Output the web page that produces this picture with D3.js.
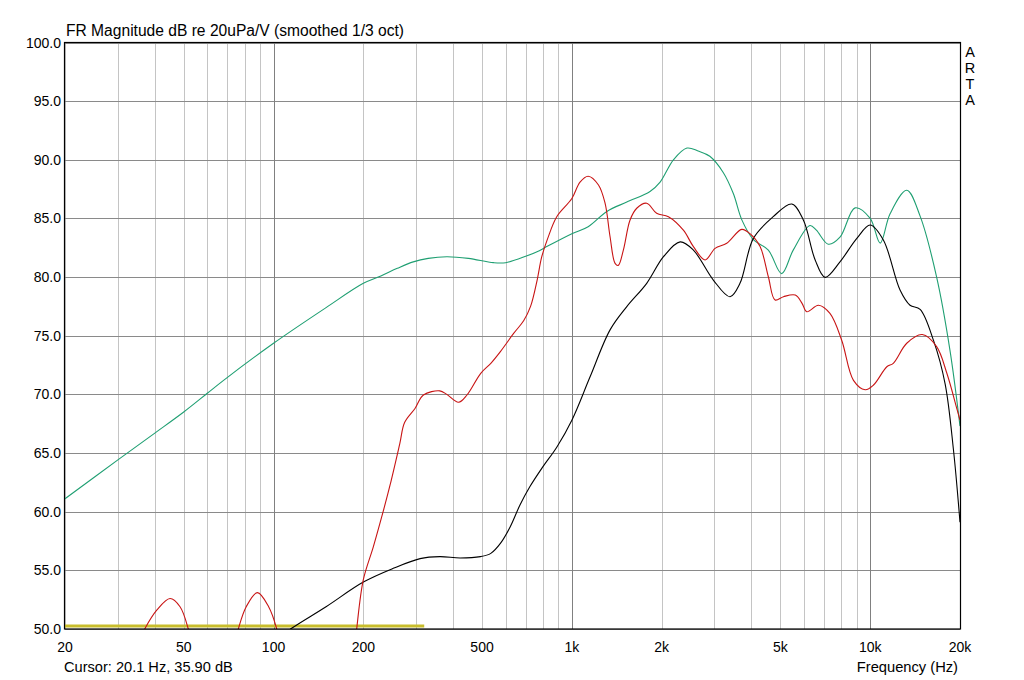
<!DOCTYPE html>
<html>
<head>
<meta charset="utf-8">
<script src="https://cdn.jsdelivr.net/npm/d3@7"></script>
<style>
  html, body { margin: 0; padding: 0; background: #fff; }
  svg { display: block; }
  text { font-family: "Liberation Sans", Arial, sans-serif; fill: #000; }
</style>
</head>
<body>
<svg id="chart" width="1024" height="680"></svg>
<script>
// ---- data ----
const titleText = "FR Magnitude dB re 20uPa/V (smoothed 1/3 oct)";
const cursorText = "Cursor: 20.1 Hz, 35.90 dB";
const xAxisTitle = "Frequency (Hz)";
const brandLetters = ["A", "R", "T", "A"];

const yTicks = [50, 55, 60, 65, 70, 75, 80, 85, 90, 95, 100];
const xTickValues = [20, 50, 100, 200, 500, 1000, 2000, 5000, 10000, 20000];
const xTickLabels = ["20", "50", "100", "200", "500", "1k", "2k", "5k", "10k", "20k"];
const xGridValues = [20, 30, 40, 50, 60, 70, 80, 90, 100, 200, 300, 400, 500, 600, 700, 800, 900,
  1000, 2000, 3000, 4000, 5000, 6000, 7000, 8000, 9000, 10000, 20000];
const xMajorGrid = [100, 1000, 10000];

const greenFreq = [20, 30, 40, 50, 60, 68, 100, 150, 200, 229, 260, 294, 330, 381, 450, 546, 600, 704, 778, 824, 1000, 1134, 1310, 1528, 1828, 1976, 2190, 2432, 2650, 2900, 3220, 3480, 3710, 4060, 4556, 5050, 5520, 6280, 6600, 7240, 7920, 8900, 10000, 10800, 11660, 13260, 14700, 16700, 18500, 20000];
const greenDb   = [61.1, 64.4, 66.7, 68.5, 70.1, 71.2, 74.36, 77.4, 79.47, 80.1, 80.75, 81.3, 81.6, 81.74, 81.6, 81.23, 81.23, 81.8, 82.25, 82.6, 83.7, 84.3, 85.6, 86.4, 87.3, 88.1, 90.0, 91.0, 90.75, 90.3, 88.9, 87.1, 84.9, 83.2, 82.3, 80.3, 82.3, 84.4, 84.0, 82.8, 83.4, 85.9, 85.0, 82.9, 85.4, 87.4, 85.2, 80.0, 73.8, 67.3];

const redFreq = [30, 34, 37, 40.6, 45, 48.6, 51.8, 55, 62, 70, 76.2, 81, 88.3, 96.3, 102.5, 108, 130, 170, 185, 190, 200, 216, 233, 246, 265, 275, 298, 318, 361, 381, 417, 445, 495, 535, 576, 638, 690, 727, 765, 792, 830, 890, 1000, 1065, 1134, 1228, 1292, 1343, 1396, 1431, 1488, 1567, 1650, 1782, 1924, 2107, 2365, 2555, 2797, 3020, 3305, 3710, 3955, 4275, 4556, 4800, 5120, 5610, 5910, 6130, 6710, 7330, 8030, 8790, 9620, 10260, 11370, 11950, 13260, 14950, 16700, 18070, 19560, 20000];
const redDb   = [44, 48, 50, 51.6, 52.6, 51.9, 50, 47, 42, 46, 50, 51.9, 53.1, 51.9, 50, 47, 40, 42, 47, 50, 54.2, 57.0, 60.0, 62.3, 65.8, 67.6, 68.8, 69.95, 70.3, 70.0, 69.33, 69.95, 71.8, 72.65, 73.65, 75.2, 76.3, 77.5, 79.75, 81.7, 83.3, 85.15, 86.7, 88.1, 88.6, 87.85, 86.3, 83.44, 81.17, 81.0, 82.3, 84.87, 85.87, 86.3, 85.44, 85.15, 84.0, 82.6, 81.46, 82.45, 82.88, 84.07, 83.7, 82.6, 80.03, 78.05, 78.33, 78.47, 77.76, 77.05, 77.6, 76.9, 74.6, 71.2, 70.4, 70.8, 72.36, 72.65, 74.36, 75.1, 74.07, 71.8, 68.7, 67.8];

const blackFreq = [100, 115, 150, 200, 252, 310, 361, 422, 494, 535, 576, 621, 670, 722, 800, 890, 1000, 1151, 1343, 1528, 1782, 2028, 2307, 2555, 2980, 3390, 3660, 4060, 4730, 5460, 5970, 6540, 7060, 7920, 9020, 10000, 11070, 12590, 13600, 14700, 16300, 17830, 19010, 20000];
const blackDb   = [48.9, 50.06, 51.9, 54.0, 55.17, 56.0, 56.17, 56.05, 56.17, 56.45, 57.3, 58.7, 60.57, 62.1, 63.84, 65.5, 67.8, 71.5, 75.5, 77.48, 79.47, 81.74, 83.0, 82.3, 79.75, 78.33, 79.47, 83.3, 85.15, 86.23, 84.87, 81.46, 79.98, 81.3, 83.3, 84.44, 83.16, 78.9, 77.6, 77.25, 74.6, 70.9, 65.3, 59.1];

const yellowFreq = [20, 320];
const yellowDb = [50.25, 50.25];

// ---- layout ----
const svg = d3.select("#chart");
const L = 65, R = 960, T = 42.5, B = 629;
const x = d3.scaleLog().domain([20, 20000]).range([L, R]);
const y = d3.scaleLinear().domain([50, 100]).range([B, T]);

// clip
svg.append("defs").append("clipPath").attr("id", "plotclip")
  .append("rect").attr("x", L).attr("y", T).attr("width", R - L).attr("height", B - T);

// grid
const grid = svg.append("g");
grid.selectAll("line.vminor").data(xGridValues.filter(v => !xMajorGrid.includes(v)))
  .join("line")
  .attr("x1", d => Math.round(x(d)) + 0.5).attr("x2", d => Math.round(x(d)) + 0.5)
  .attr("y1", T).attr("y2", B)
  .attr("stroke", "#c4c4c4").attr("stroke-width", 1);
grid.selectAll("line.hgrid").data(yTicks)
  .join("line")
  .attr("x1", L).attr("x2", R)
  .attr("y1", d => Math.round(y(d)) + 0.5).attr("y2", d => Math.round(y(d)) + 0.5)
  .attr("stroke", "#8a8a8a").attr("stroke-width", 1);
grid.selectAll("line.vmajor").data(xMajorGrid)
  .join("line")
  .attr("x1", d => Math.round(x(d)) + 0.5).attr("x2", d => Math.round(x(d)) + 0.5)
  .attr("y1", T).attr("y2", B)
  .attr("stroke", "#808080").attr("stroke-width", 1);

// curves
const smooth = d3.line().x(d => x(d[0])).y(d => y(d[1])).curve(d3.curveCatmullRom.alpha(0.5));
const plot = svg.append("g").attr("clip-path", "url(#plotclip)");
const series = [
  { f: yellowFreq, v: yellowDb, color: "#c8bd2c", w: 3 },
  { f: greenFreq, v: greenDb, color: "#1f9f72", w: 1.1 },
  { f: blackFreq, v: blackDb, color: "#000000", w: 1.1 },
  { f: redFreq, v: redDb, color: "#c81414", w: 1.1 }
];
plot.selectAll("path").data(series).join("path")
  .attr("d", s => smooth(s.f.map((f, i) => [f, s.v[i]])))
  .attr("fill", "none")
  .attr("stroke", s => s.color)
  .attr("stroke-width", s => s.w);

// frame
svg.append("rect").attr("x", L - 0.5).attr("y", T).attr("width", R - L + 1).attr("height", B - T)
  .attr("fill", "none").attr("stroke", "#000").attr("stroke-width", 1.2);

// y labels
svg.append("g").selectAll("text").data(yTicks).join("text")
  .attr("x", 61).attr("y", d => y(d) + 5)
  .attr("text-anchor", "end").attr("font-size", 14)
  .text(d => d.toFixed(1));

// x labels
svg.append("g").selectAll("text").data(xTickValues).join("text")
  .attr("x", d => x(d)).attr("y", 651.5)
  .attr("text-anchor", "middle").attr("font-size", 14)
  .text((d, i) => xTickLabels[i]);

// titles
svg.append("text").attr("x", 66).attr("y", 36).attr("font-size", 15.6).text(titleText);
svg.append("text").attr("x", 64).attr("y", 672).attr("font-size", 14.6).text(cursorText);
svg.append("text").attr("x", 958).attr("y", 672).attr("font-size", 14.7)
  .attr("text-anchor", "end").text(xAxisTitle);
svg.append("g").selectAll("text").data(brandLetters).join("text")
  .attr("x", 970).attr("y", (d, i) => 57 + i * 16)
  .attr("text-anchor", "middle").attr("font-size", 14.5)
  .text(d => d);
</script>
</body>
</html>
